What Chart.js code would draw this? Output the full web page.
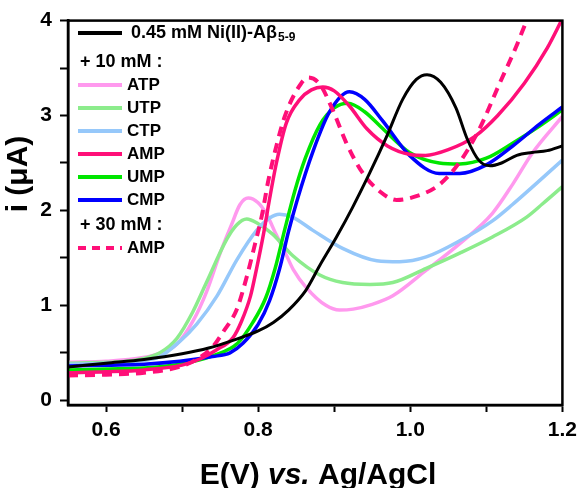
<!DOCTYPE html>
<html>
<head>
<meta charset="utf-8">
<script src="https://cdn.jsdelivr.net/npm/chart.js@4.4.1/dist/chart.umd.min.js"></script>
<style>
  html, body { margin: 0; padding: 0; background: #fff; }
  canvas { display: block; }
</style>
</head>
<body>
<canvas id="cv" width="583" height="488"></canvas>
<script>
// potentials (V vs Ag/AgCl) and currents (uA)
const potNi  = [0.55,0.60,0.65,0.70,0.735,0.763,0.80,0.82,0.84,0.862,0.881,0.903,0.924,0.947,0.969,0.99,1.008,1.022,1.04,1.06,1.075,1.09,1.105,1.12,1.14,1.16,1.18,1.20];
const curNi  = [0.35,0.39,0.43,0.49,0.55,0.62,0.73,0.82,0.95,1.15,1.42,1.72,2.03,2.40,2.78,3.17,3.38,3.43,3.35,3.08,2.75,2.53,2.47,2.50,2.58,2.61,2.63,2.68];

const potATP = [0.55,0.60,0.649,0.672,0.693,0.714,0.732,0.750,0.765,0.776,0.787,0.80,0.811,0.824,0.837,0.846,0.863,0.889,0.907,0.925,0.950,0.977,1.021,1.065,1.108,1.135,1.161,1.20];
const curATP = [0.40,0.41,0.45,0.50,0.59,0.83,1.14,1.55,1.85,2.06,2.13,2.08,1.96,1.74,1.53,1.38,1.19,1.00,0.95,0.96,1.01,1.10,1.37,1.65,1.97,2.28,2.61,2.99];

const potUTP = [0.55,0.60,0.627,0.65,0.671,0.693,0.714,0.732,0.759,0.772,0.785,0.80,0.819,0.846,0.881,0.911,0.947,0.977,1.021,1.065,1.108,1.153,1.174,1.20];
const curUTP = [0.39,0.40,0.41,0.44,0.50,0.65,0.93,1.24,1.70,1.85,1.91,1.86,1.75,1.52,1.32,1.24,1.22,1.24,1.39,1.55,1.72,1.93,2.07,2.25];

const potCTP = [0.55,0.60,0.65,0.671,0.697,0.719,0.746,0.772,0.798,0.815,0.828,0.845,0.872,0.911,0.956,0.986,1.021,1.065,1.108,1.134,1.20];
const curCTP = [0.38,0.39,0.42,0.46,0.62,0.80,1.10,1.48,1.79,1.92,1.96,1.93,1.79,1.60,1.47,1.46,1.51,1.68,1.89,2.06,2.53];

const potAMP = [0.55,0.60,0.65,0.70,0.725,0.745,0.767,0.778,0.79,0.798,0.807,0.815,0.824,0.837,0.855,0.87,0.885,0.90,0.92,0.943,0.97,1.00,1.02,1.05,1.085,1.115,1.15,1.18,1.20];
const curAMP = [0.29,0.30,0.32,0.37,0.44,0.53,0.66,0.83,1.10,1.39,1.75,2.12,2.50,2.92,3.17,3.27,3.30,3.26,3.10,2.86,2.68,2.59,2.58,2.64,2.78,3.00,3.34,3.71,4.02];

const potUMP = [0.55,0.60,0.65,0.697,0.741,0.773,0.793,0.81,0.822,0.835,0.848,0.862,0.881,0.90,0.918,0.94,0.964,0.999,1.038,1.065,1.10,1.135,1.17,1.20];
const curUMP = [0.32,0.33,0.34,0.38,0.47,0.60,0.82,1.08,1.38,1.80,2.20,2.55,2.90,3.08,3.13,3.04,2.86,2.61,2.50,2.49,2.55,2.71,2.89,3.06];

const potCMP = [0.55,0.60,0.65,0.697,0.740,0.763,0.78,0.80,0.815,0.828,0.84,0.851,0.872,0.894,0.92,0.94,0.964,0.999,1.038,1.065,1.10,1.135,1.17,1.20];
const curCMP = [0.36,0.37,0.38,0.41,0.46,0.50,0.60,0.80,1.05,1.38,1.78,2.10,2.62,3.04,3.25,3.17,2.94,2.58,2.39,2.39,2.48,2.68,2.91,3.09];

const potAMP30 = [0.55,0.60,0.65,0.70,0.723,0.741,0.754,0.772,0.785,0.796,0.805,0.813,0.824,0.835,0.851,0.866,0.881,0.898,0.916,0.937,0.96,0.982,1.008,1.038,1.065,1.091,1.117,1.14,1.153,1.17];
const curAMP30 = [0.26,0.27,0.29,0.36,0.45,0.57,0.72,0.96,1.30,1.65,1.95,2.30,2.68,2.99,3.27,3.40,3.33,3.06,2.71,2.40,2.20,2.11,2.15,2.27,2.51,2.86,3.33,3.74,4.00,4.30];

const xTickValues = [0.6,0.7,0.8,0.9,1.0,1.1,1.2];
const xTickLabels = ['0.6','','0.8','','1.0','','1.2'];
const yTickValues = [0,0.5,1,1.5,2,2.5,3,3.5,4];
const yTickLabels = ['0','','1','','2','','3','','4'];

const FONT = "'Liberation Sans', Arial, sans-serif";

function pts(xs, ys){
    return xs.map((x, i) => ({x: x, y: ys[i]}));
}

function line(label, xs, ys, color, width, dash){
    return {
        label: label,
        data: pts(xs, ys),
        borderColor: color,
        backgroundColor: color,
        borderWidth: width,
        borderDash: dash || [],
        showLine: true,
        pointRadius: 0,
        cubicInterpolationMode: 'monotone',
        fill: false
    };
}

const datasets = [
    line('Ni', potNi, curNi, '#000000', 3),                 //0
    line('AMP', potAMP, curAMP, '#ff0f78', 3.5),            //1
    line('AMP30', potAMP30, curAMP30, '#ff0f78', 4, [10,7]),//2
    line('CMP', potCMP, curCMP, '#0000ff', 3.5),            //3
    line('UMP', potUMP, curUMP, '#00e600', 3.5),            //4
    line('CTP', potCTP, curCTP, '#96c8fa', 3.5),            //5
    line('UTP', potUTP, curUTP, '#8cec8c', 3.5),            //6
    line('ATP', potATP, curATP, '#ff99ee', 3.5)             //7
];

// legend rows: ds = dataset index, or a text header
const legendRows = [
    {ds: 0, y: 33},
    {text: '+ 10 mM :', y: 62},
    {ds: 7, text: 'ATP', y: 85},
    {ds: 6, text: 'UTP', y: 108},
    {ds: 5, text: 'CTP', y: 131},
    {ds: 1, text: 'AMP', y: 154},
    {ds: 4, text: 'UMP', y: 177},
    {ds: 3, text: 'CMP', y: 200},
    {text: '+ 30 mM :', y: 225},
    {ds: 2, text: 'AMP', y: 248}
];

const decor = {
    id: 'decor',
    afterDraw(chart){
        const ctx = chart.ctx;
        const a = chart.chartArea;
        ctx.save();
        // frame
        ctx.strokeStyle = '#000';
        ctx.lineWidth = 2.5;
        ctx.strokeRect(a.left, a.top, a.right - a.left, a.bottom - a.top);

        // legend
        ctx.textBaseline = 'middle';
        ctx.fillStyle = '#000';
        legendRows.forEach(r => {
            if(r.ds === undefined){
                ctx.font = 'bold 18px ' + FONT;
                ctx.fillText(r.text, 80, r.y);
                return;
            }
            const d = datasets[r.ds];
            ctx.strokeStyle = d.borderColor;
            ctx.lineWidth = 4;
            ctx.setLineDash(d.borderDash.length ? [8,6] : []);
            ctx.beginPath();
            ctx.moveTo(78, r.y);
            ctx.lineTo(122, r.y);
            ctx.stroke();
            ctx.setLineDash([]);
            if(r.ds === 0){
                ctx.font = 'bold 18px ' + FONT;
                const t = '0.45 mM Ni(II)-A\u03b2';
                ctx.fillText(t, 131, r.y);
                const w = ctx.measureText(t).width;
                ctx.font = 'bold 12px ' + FONT;
                ctx.fillText('5-9', 131 + w + 1, r.y + 5);
            }
            else{
                ctx.font = 'bold 17px ' + FONT;
                ctx.fillText(r.text, 127, r.y);
            }
        });

        // x title with italic "vs."
        const parts = [['E(V) ', 'bold'], ['vs.', 'italic bold'], [' Ag/AgCl', 'bold']];
        let total = 0;
        parts.forEach(p => { ctx.font = p[1] + ' 30px ' + FONT; total += ctx.measureText(p[0]).width; });
        let x = 318 - total / 2;
        ctx.textBaseline = 'alphabetic';
        parts.forEach(p => {
            ctx.font = p[1] + ' 30px ' + FONT;
            ctx.fillText(p[0], x, 484);
            x += ctx.measureText(p[0]).width;
        });

        // y title
        ctx.translate(19, 174);
        ctx.rotate(-Math.PI / 2);
        ctx.textAlign = 'center';
        ctx.textBaseline = 'middle';
        ctx.font = 'bold 30px ' + FONT;
        ctx.fillText('i (\u03bcA)', 0, 0);
        ctx.restore();
    }
};

const canvas = document.getElementById('cv');
const myChart = new Chart(canvas, {
    type: 'scatter',
    data: { datasets: datasets },
    options: {
        responsive: false,
        animation: false,
        devicePixelRatio: 1,
        layout: { padding: { left: 0, top: 12, right: 20, bottom: 0 } },
        plugins: { legend: { display: false }, tooltip: { enabled: false } },
        scales: {
            x: {
                type: 'linear',
                min: 0.55,
                max: 1.2,
                afterBuildTicks: s => { s.ticks = xTickValues.map(v => ({value: v})); },
                afterFit: s => { s.height = 83; },
                border: { display: true, color: '#000', width: 2.5 },
                grid: { drawOnChartArea: false, drawTicks: true, tickLength: 7, tickColor: '#000', tickWidth: 2 },
                ticks: {
                    color: '#000',
                    padding: 6,
                    maxRotation: 0,
                    autoSkip: false,
                    font: { family: FONT, size: 21, weight: 'bold' },
                    callback: (v, i) => xTickLabels[i]
                }
            },
            y: {
                type: 'linear',
                min: -0.05,
                max: 4,
                afterBuildTicks: s => { s.ticks = yTickValues.map(v => ({value: v})); },
                afterFit: s => { s.width = 68; },
                border: { display: true, color: '#000', width: 2.5 },
                grid: { drawOnChartArea: false, drawTicks: true, tickLength: 8, tickColor: '#000', tickWidth: 2 },
                ticks: {
                    color: '#000',
                    padding: 8,
                    autoSkip: false,
                    font: { family: FONT, size: 21, weight: 'bold' },
                    callback: (v, i) => yTickLabels[i]
                }
            }
        }
    },
    plugins: [decor]
});
</script>
</body>
</html>
